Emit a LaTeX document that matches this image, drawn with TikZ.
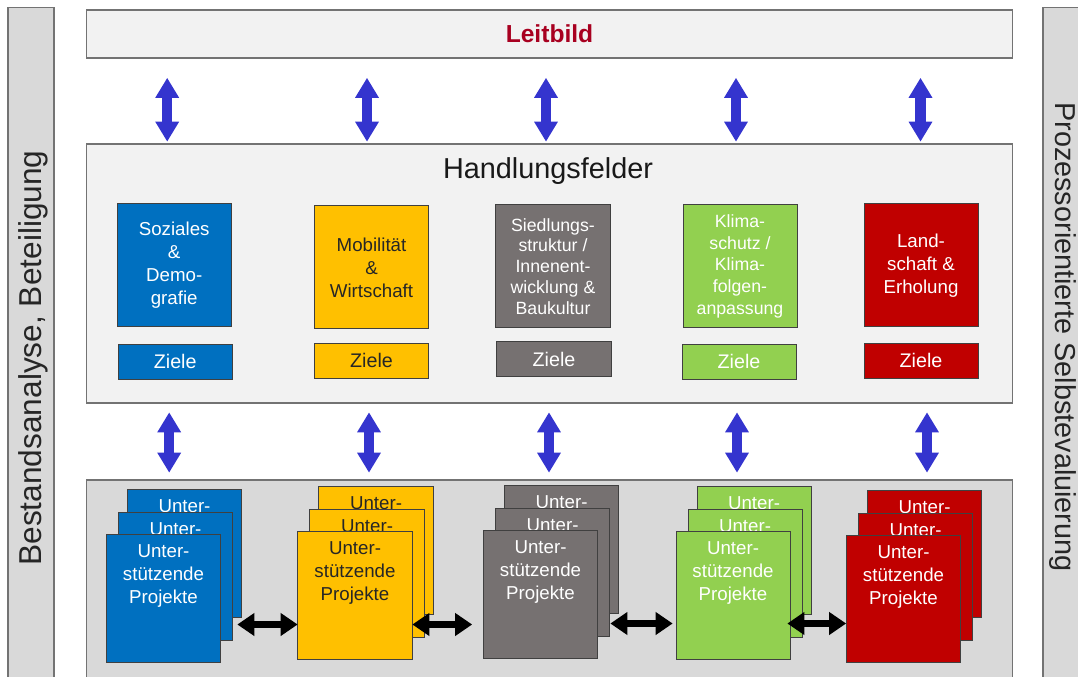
\documentclass[tikz,border=0pt]{standalone}
\usepackage{fontspec}
\setmainfont{Liberation Sans}
\usepackage{tikz}
\usetikzlibrary{arrows.meta}
\usetikzlibrary{positioning}
\usetikzlibrary{calc}
\definecolor{hfblue}{HTML}{0070C0}
\definecolor{hfyellow}{HTML}{FFC000}
\definecolor{hfgray}{HTML}{767171}
\definecolor{hfgreen}{HTML}{92D050}
\definecolor{hfred}{HTML}{C00000}
\definecolor{lbred}{HTML}{A80020}
\definecolor{arrblue}{HTML}{3434CE}
\definecolor{panel}{HTML}{F2F2F2}
\definecolor{panelgray}{HTML}{D9D9D9}
\tikzset{panelbox/.style={draw=black!55,line width=0.8pt,fill=panel,minimum width=23.125cm,inner sep=0pt},sidebar/.style={draw=black!55,line width=0.8pt,fill=panelgray,inner sep=0pt},sidetext/.style={font=\fontsize{20.5}{24}\selectfont,inner sep=0pt,text=black!85}}
\tikzset{feld/.style={draw=black!75,line width=0.7pt,minimum width=2.85cm,minimum height=3.075cm,align=center,inner sep=1pt,font=\fontsize{13.3}{16.3}\selectfont},ziel/.style={draw=black!75,line width=0.7pt,minimum width=2.85cm,minimum height=0.875cm,inner sep=0pt,font=\fontsize{14}{16}\selectfont}}
\tikzset{cardlbl/.style={anchor=north,align=center,yshift=-4pt,font=\fontsize{13.3}{16.3}\selectfont},card/.style 2 args={draw=black!75,line width=0.7pt,fill=#1,minimum width=2.85cm,minimum height=3.175cm,inner sep=0pt,label={[cardlbl,text=#2]north:{Unter-\\stützende\\Projekte}}}}
\tikzset{bluearr/.style={line width=7.5pt,draw=arrblue,{Triangle[width=17pt,length=14pt,line width=0pt]}-{Triangle[width=17pt,length=14pt,line width=0pt]}},blkarr/.style={line width=5.5pt,draw=black,{Triangle[width=16.5pt,length=12pt,line width=0pt]}-{Triangle[width=16.5pt,length=12pt,line width=0pt]}}}
\begin{document}
\begin{tikzpicture}[x=0.025cm,y=-0.025cm]
\useasboundingbox (0,0) rectangle (1078,677);
\node (sl) [sidebar, minimum width=1.15cm, minimum height=17.3cm] at (31,354) {};
\node (sr) [sidebar, minimum width=1.425cm, minimum height=17.3cm] at (1071.5,354) {};
\node (slt) [sidetext, rotate=90, font=\fontsize{22.5}{26}\selectfont] at (33,358) {Bestandsanalyse, Beteiligung};
\node (srt) [sidetext, rotate=-90] at (1063,337) {Prozessorientierte Selbstevaluierung};

\node (lb) [panelbox, minimum height=1.2cm, font=\bfseries\fontsize{17.5}{20}\selectfont, text=lbred] at (549.5,34) {Leitbild};
\node (hf) [panelbox, minimum height=6.475cm] at (549.5,273.5) {};
\node (hft) [font=\fontsize{20.5}{24}\selectfont, inner sep=0pt, text=black!90] at (548,171) {Handlungsfelder};
\node (pj) [panelbox, fill=panelgray, minimum height=5.5cm] at (549.5,590) {};

\node (so) [feld, fill=hfblue, text=white] at (174.2,265.4) {Soziales\\\&\\Demo-\\grafie};
\node (mw) [feld, fill=hfyellow, text=black!85] at (371.5,267.4) {Mobilität\\\&\\Wirtschaft};
\node (si) [feld, fill=hfgray, text=white, font=\fontsize{12.6}{14.8}\selectfont] at (553,266.4) {Siedlungs-\\struktur /\\Innenent-\\wicklung \&\\Baukultur};
\node (kl) [feld, fill=hfgreen, text=white, font=\fontsize{12.6}{15.6}\selectfont] at (740,266.4) {Klima-\\schutz /\\Klima-\\folgen-\\anpassung};
\node (la) [feld, fill=hfred, text=white] at (921,265.4) {Land-\\schaft \&\\Erholung};

\node (z1) [ziel, fill=hfblue, text=white] at (175.2,361.5) {Ziele};
\node (z2) [ziel, fill=hfyellow, text=black!85] at (371.5,360.5) {Ziele};
\node (z3) [ziel, fill=hfgray, text=white] at (554,359.2) {Ziele};
\node (z4) [ziel, fill=hfgreen, text=white] at (739,361.5) {Ziele};
\node (z5) [ziel, fill=hfred, text=white] at (921,360.5) {Ziele};

\draw[bluearr] ($(lb.south -| so.north)+(-7,19.5)$) -- ($(hf.north -| so.north)+(-7,-2)$);
\draw[bluearr] ($(lb.south -| mw.north)+(-4.5,19.5)$) -- ($(hf.north -| mw.north)+(-4.5,-2)$);
\draw[bluearr] ($(lb.south -| si.north)+(-7,19.5)$) -- ($(hf.north -| si.north)+(-7,-2)$);
\draw[bluearr] ($(lb.south -| kl.north)+(-4,19.5)$) -- ($(hf.north -| kl.north)+(-4,-2)$);
\draw[bluearr] ($(lb.south -| la.north)+(-0.5,19.5)$) -- ($(hf.north -| la.north)+(-0.5,-2)$);

\draw[bluearr] ($(hf.south -| z1.south)+(-6,9)$) -- ($(pj.north -| z1.south)+(-6,-7)$);
\draw[bluearr] ($(hf.south -| z2.south)+(-2.5,9)$) -- ($(pj.north -| z2.south)+(-2.5,-7)$);
\draw[bluearr] ($(hf.south -| z3.south)+(-5,9)$) -- ($(pj.north -| z3.south)+(-5,-7)$);
\draw[bluearr] ($(hf.south -| z4.south)+(-2,9)$) -- ($(pj.north -| z4.south)+(-2,-7)$);
\draw[bluearr] ($(hf.south -| z5.south)+(6,9)$) -- ($(pj.north -| z5.south)+(6,-7)$);

\node (p1c) [card={hfblue}{white}] at (184.5,553.5) {};
\node (p1b) [card={hfblue}{white}] at (175.5,576.5) {};
\node (p1a) [card={hfblue}{white}] at (163.5,598.5) {};
\node (p2c) [card={hfyellow}{black!85}] at (376,550.5) {};
\node (p2b) [card={hfyellow}{black!85}] at (367,573.5) {};
\node (p2a) [card={hfyellow}{black!85}] at (355,595.5) {};
\node (p3c) [card={hfgray}{white}] at (561.5,549.5) {};
\node (p3b) [card={hfgray}{white}] at (552.5,572.5) {};
\node (p3a) [card={hfgray}{white}] at (540.5,594.5) {};
\node (p4c) [card={hfgreen}{white}] at (754,550.5) {};
\node (p4b) [card={hfgreen}{white}] at (745,573.5) {};
\node (p4a) [card={hfgreen}{white}] at (733,595.5) {};
\node (p5c) [card={hfred}{white}] at (924.5,554) {};
\node (p5b) [card={hfred}{white}] at (915.5,577) {};
\node (p5a) [card={hfred}{white}] at (903.5,599) {};

\draw[blkarr] ($(p1a.east)+(16.5,26)$) -- ($(p2a.west)+(0,29)$);
\draw[blkarr] ($(p2a.east)+(0,29)$) -- ($(p3a.west)+(-11,30)$);
\draw[blkarr] ($(p3a.east)+(12.5,29)$) -- ($(p4a.west)+(-3,28)$);
\draw[blkarr] ($(p4a.east)+(-3,28)$) -- ($(p5a.west)+(0,24.5)$);
\end{tikzpicture}
\end{document}
